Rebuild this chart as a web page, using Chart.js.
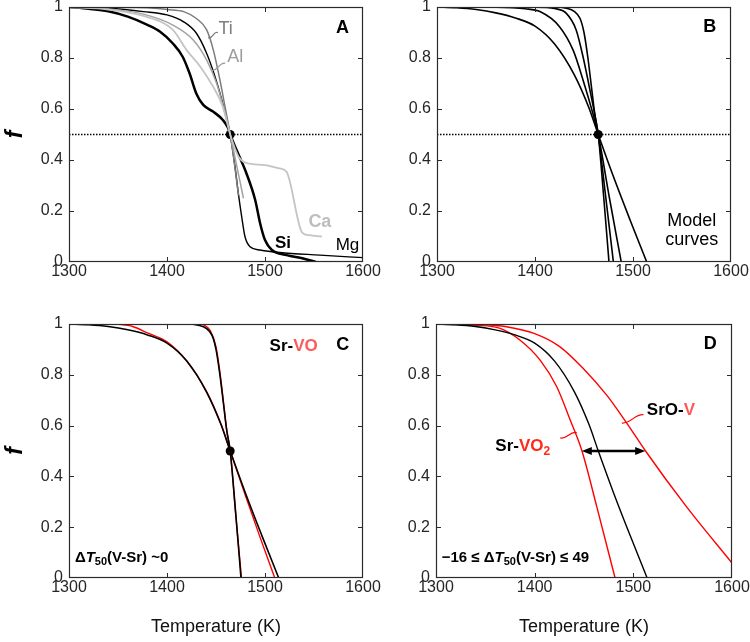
<!DOCTYPE html>
<html>
<head>
<meta charset="utf-8">
<script src="https://cdn.jsdelivr.net/npm/chart.js@4.4.1/dist/chart.umd.min.js"></script>
<style>
  html, body { margin: 0; padding: 0; background: #fff; overflow: hidden; }
  #wrap { position: relative; width: 750px; height: 642px; overflow: hidden; }
  canvas { position: absolute; }
</style>
</head>
<body>
<div id="wrap">
  <canvas id="panelA" width="400" height="310" style="left:0;top:-10px"></canvas>
  <canvas id="panelB" width="385" height="310" style="left:375px;top:-10px"></canvas>
  <canvas id="panelC" width="400" height="342" style="left:0;top:300px"></canvas>
  <canvas id="panelD" width="385" height="342" style="left:375px;top:300px"></canvas>
</div>
<script>
const FONT = '"Liberation Sans", Arial, Helvetica, sans-serif';

// axes
const tMin = 1300, tMax = 1600;
const halfLevel = 0.5;
const T50 = 1464.5;

// panel A: measured release curves
const siT = [1300, 1320, 1340, 1360, 1380, 1393, 1406, 1416, 1423, 1430, 1437, 1447, 1457, 1462.5, 1464.5, 1471, 1481, 1490, 1495, 1500, 1507, 1522, 1539, 1552];
const siF = [1.0, 0.993, 0.983, 0.962, 0.93, 0.903, 0.857, 0.805, 0.74, 0.66, 0.616, 0.59, 0.557, 0.524, 0.5, 0.439, 0.348, 0.243, 0.152, 0.086, 0.047, 0.027, 0.014, 0];
const mgT = [1300, 1340, 1376, 1400, 1417, 1430, 1440.5, 1449, 1456, 1461, 1464.5, 1469.4, 1472.8, 1476.2, 1479.6, 1484.7, 1495, 1515, 1556, 1600];
const mgF = [1.0, 0.995, 0.982, 0.969, 0.942, 0.897, 0.818, 0.727, 0.635, 0.557, 0.5, 0.374, 0.269, 0.178, 0.099, 0.06, 0.047, 0.037, 0.027, 0.017];
const tiT = [1300, 1380, 1400, 1417, 1430, 1440.5, 1447.3, 1454, 1459.2, 1464.5, 1469, 1473];
const tiF = [1.0, 0.997, 0.99, 0.982, 0.955, 0.91, 0.831, 0.714, 0.609, 0.5, 0.38, 0.26];
const alT = [1300, 1340, 1376, 1406, 1427, 1440.5, 1450.7, 1457.4, 1464.5, 1471, 1478];
const alF = [1.0, 0.993, 0.972, 0.929, 0.87, 0.792, 0.70, 0.609, 0.5, 0.38, 0.25];
const caT = [1300, 1340, 1376, 1406, 1420, 1434, 1447, 1457, 1464.5, 1473, 1480, 1500, 1515, 1522, 1538, 1545, 1558];
const caF = [1.0, 0.99, 0.965, 0.91, 0.831, 0.766, 0.688, 0.609, 0.5, 0.413, 0.39, 0.38, 0.367, 0.354, 0.115, 0.105, 0.10];

// panel B: model curves
const broadT = [1300, 1320, 1340, 1360, 1380, 1400, 1420, 1440, 1455, 1464.5, 1480, 1497, 1514];
const broadF = [1.0, 0.997, 0.99, 0.977, 0.957, 0.925, 0.855, 0.735, 0.605, 0.5, 0.335, 0.165, 0];
const midT = [1300, 1360, 1390, 1405, 1425, 1439, 1449, 1459, 1464.5, 1476, 1488];
const midF = [1.0, 0.999, 0.993, 0.982, 0.923, 0.83, 0.714, 0.583, 0.5, 0.25, 0];
const sharpT = [1300, 1400, 1420, 1432, 1442, 1449, 1456, 1464.5, 1472, 1480];
const sharpF = [1.0, 0.999, 0.994, 0.975, 0.91, 0.805, 0.675, 0.5, 0.26, 0];
const steepT = [1300, 1420, 1432, 1440, 1446, 1450, 1454, 1457.5, 1461, 1464.5, 1470, 1475.5];
const steepF = [1.0, 1.0, 0.995, 0.983, 0.955, 0.9, 0.8, 0.69, 0.58, 0.5, 0.26, 0];

// panel C: Sr-VO fits
const voBroadT = [1348, 1365, 1380, 1400, 1420, 1440, 1455, 1464.5, 1480, 1495, 1510];
const voBroadF = [1.0, 0.99, 0.965, 0.93, 0.855, 0.737, 0.607, 0.5, 0.325, 0.16, 0];
const voSteepT = [1436, 1444, 1450, 1454, 1458, 1461, 1464.5, 1470, 1476];
const voSteepF = [1.0, 0.975, 0.91, 0.81, 0.68, 0.58, 0.5, 0.255, 0];

// panel D: Sr-VO2 and SrO-V
const vo2T = [1300, 1340, 1365, 1385, 1405.5, 1422.4, 1436, 1447.8, 1463, 1481.5];
const vo2F = [1.0, 0.995, 0.983, 0.937, 0.858, 0.753, 0.622, 0.502, 0.28, 0];
const sroT = [1344, 1370, 1400, 1425, 1449, 1473, 1493, 1512, 1554, 1600];
const sroF = [1.0, 0.99, 0.962, 0.912, 0.826, 0.72, 0.612, 0.502, 0.28, 0.059];
const arrowT = [1447.8, 1512];

const RED = '#ff0000';
const pts = (T, F) => T.map((t, i) => ({ x: t, y: F[i] }));

function curve(T, F, color, width) {
  return {
    data: pts(T, F), borderColor: color, borderWidth: width,
    pointRadius: 0, fill: false, cubicInterpolationMode: 'monotone'
  };
}
function halfLine() {
  return {
    data: pts([tMin, tMax], [halfLevel, halfLevel]), borderColor: '#000',
    borderWidth: 1.5, borderDash: [1.5, 1.5], pointRadius: 0, fill: false
  };
}
function midDot() {
  return {
    data: [{ x: T50, y: halfLevel }], showLine: false, pointRadius: 4.5,
    pointBackgroundColor: '#000', pointBorderWidth: 0
  };
}

function drawRich(ctx, n, x, y) {
  const size = n.size;
  const fontOf = p => {
    const b = p.b !== undefined ? p.b : n.b;
    return (p.i ? 'italic ' : '') + (b ? 'bold ' : '') + (p.sub ? Math.round(size * 0.72) : size) + 'px ' + FONT;
  };
  let total = 0;
  n.parts.forEach(p => { ctx.font = fontOf(p); total += ctx.measureText(p.t).width; });
  let cx = n.align === 'left' ? x : n.align === 'right' ? x - total : x - total / 2;
  ctx.textBaseline = 'middle';
  ctx.textAlign = 'left';
  n.parts.forEach(p => {
    ctx.font = fontOf(p);
    ctx.fillStyle = p.c || n.c || '#000';
    ctx.fillText(p.t, cx, p.sub ? y + size * 0.28 : y);
    cx += ctx.measureText(p.t).width;
  });
}

function drawSquiggle(ctx, x1, y1, x2, y2, color) {
  const dx = x2 - x1, dy = y2 - y1, len = Math.hypot(dx, dy);
  const nx = -dy / len * 4, ny = dx / len * 4;
  ctx.beginPath();
  ctx.moveTo(x1, y1);
  ctx.bezierCurveTo(x1 + dx / 3 + nx, y1 + dy / 3 + ny, x1 + 2 * dx / 3 - nx, y1 + 2 * dy / 3 - ny, x2, y2);
  ctx.strokeStyle = color;
  ctx.lineWidth = 1.2;
  ctx.stroke();
}

function drawArrow(ctx, x1, x2, y) {
  const head = 10, half = 4;
  ctx.strokeStyle = '#000';
  ctx.fillStyle = '#000';
  ctx.lineWidth = 2.5;
  ctx.beginPath();
  ctx.moveTo(x1 + head - 1, y);
  ctx.lineTo(x2 - head + 1, y);
  ctx.stroke();
  ctx.beginPath();
  ctx.moveTo(x1, y); ctx.lineTo(x1 + head, y - half); ctx.lineTo(x1 + head, y + half); ctx.closePath();
  ctx.fill();
  ctx.beginPath();
  ctx.moveTo(x2, y); ctx.lineTo(x2 - head, y - half); ctx.lineTo(x2 - head, y + half); ctx.closePath();
  ctx.fill();
}

// box with inward ticks on all four sides, matlab style
const framePlugin = {
  id: 'frame',
  afterDraw(chart) {
    const { ctx, chartArea: a, scales: { x, y } } = chart;
    const len = 5;
    ctx.save();
    ctx.strokeStyle = '#2b2b2b';
    ctx.lineWidth = 1.2;
    ctx.strokeRect(Math.round(a.left) + 0.5, Math.round(a.top) + 0.5,
      Math.round(a.right - a.left) - 1, Math.round(a.bottom - a.top) - 1);
    ctx.lineWidth = 1;
    ctx.beginPath();
    x.ticks.forEach(t => {
      if (t.value === x.min || t.value === x.max) return;
      const px = Math.round(x.getPixelForValue(t.value)) + 0.5;
      ctx.moveTo(px, a.bottom); ctx.lineTo(px, a.bottom - len);
      ctx.moveTo(px, a.top); ctx.lineTo(px, a.top + len);
    });
    y.ticks.forEach(t => {
      if (t.value === y.min || t.value === y.max) return;
      const py = Math.round(y.getPixelForValue(t.value)) + 0.5;
      ctx.moveTo(a.left, py); ctx.lineTo(a.left + len, py);
      ctx.moveTo(a.right, py); ctx.lineTo(a.right - len, py);
    });
    ctx.stroke();
    ctx.restore();
  }
};

function notesPlugin(notes) {
  return {
    id: 'notes',
    afterDatasetsDraw(chart) {
      const { ctx, scales: { x, y } } = chart;
      ctx.save();
      notes.forEach(n => {
        if (n.kind === 'squiggle') {
          drawSquiggle(ctx, x.getPixelForValue(n.from[0]), y.getPixelForValue(n.from[1]),
            x.getPixelForValue(n.to[0]), y.getPixelForValue(n.to[1]), n.c);
        } else if (n.kind === 'arrow') {
          drawArrow(ctx, x.getPixelForValue(n.T[0]), x.getPixelForValue(n.T[1]), y.getPixelForValue(n.f));
        } else {
          drawRich(ctx, n, x.getPixelForValue(n.T), y.getPixelForValue(n.f));
        }
      });
      ctx.restore();
    }
  };
}

const fmtY = v => {
  const r = Math.round(v * 10) / 10;
  return r === 0 ? '0' : r === 1 ? '1' : r.toFixed(1);
};

function buildPanel(id, g, datasets, notes) {
  new Chart(document.getElementById(id), {
    type: 'line',
    data: { datasets: datasets },
    options: {
      responsive: false,
      animation: false,
      events: [],
      layout: { padding: { top: g.top, right: g.right, left: 0, bottom: 0 } },
      plugins: { legend: { display: false }, tooltip: { enabled: false } },
      scales: {
        x: {
          type: 'linear', min: tMin, max: tMax,
          grid: { display: false, drawTicks: false },
          border: { display: false },
          ticks: {
            stepSize: 100, padding: 0, maxRotation: 0, color: '#262626',
            font: { size: 16, family: FONT }, callback: v => String(v)
          },
          afterFit: s => { s.height = g.xh; },
          title: {
            display: !!g.xTitle, text: 'Temperature (K)', color: '#111',
            font: { size: 18, family: FONT }, padding: { top: 0, bottom: 4 }
          }
        },
        y: {
          min: 0, max: 1,
          grid: { display: false, drawTicks: false },
          border: { display: false },
          ticks: {
            stepSize: 0.2, padding: 6, color: '#262626',
            font: { size: 16, family: FONT }, callback: fmtY
          },
          afterFit: s => { s.width = g.yw; },
          title: {
            display: !!g.yTitle, text: 'f', color: '#000',
            font: { size: 23, family: FONT, weight: 'bold', style: 'italic' }, padding: { top: 2, bottom: 0 }
          }
        }
      }
    },
    plugins: [framePlugin, notesPlugin(notes)]
  });
}

const bold18 = { size: 18, b: true, align: 'center' };

buildPanel('panelA', { top: 17, right: 37, yw: 69, xh: 38, yTitle: true }, [
  curve(caT, caF, '#c4c4c4', 1.8),
  curve(alT, alF, '#a2a2a2', 1.5),
  curve(tiT, tiF, '#7c7c7c', 1.5),
  curve(mgT, mgF, '#000', 1.4),
  curve(siT, siF, '#000', 2.5),
  halfLine(),
  midDot()
], [
  { kind: 'squiggle', from: [1442, 0.88], to: [1452, 0.9], c: '#7c7c7c' },
  { T: 1452.5, f: 0.914, size: 18, align: 'left', c: '#7f7f7f', parts: [{ t: 'Ti' }] },
  { kind: 'squiggle', from: [1445.6, 0.752], to: [1459.5, 0.78], c: '#9a9a9a' },
  { T: 1461.5, f: 0.804, size: 18, align: 'left', c: '#9c9c9c', parts: [{ t: 'Al' }] },
  Object.assign({ T: 1556, f: 0.158, c: '#bdbdbd', parts: [{ t: 'Ca' }] }, bold18),
  { T: 1518.4, f: 0.075, size: 17, b: true, align: 'center', parts: [{ t: 'Si' }] },
  { T: 1584.2, f: 0.065, size: 17, align: 'center', parts: [{ t: 'Mg' }] },
  Object.assign({ T: 1579, f: 0.916, parts: [{ t: 'A' }] }, bold18)
]);

buildPanel('panelB', { top: 17, right: 29, yw: 62, xh: 38 }, [
  curve(broadT, broadF, '#000', 1.6),
  curve(midT, midF, '#000', 1.6),
  curve(sharpT, sharpF, '#000', 1.6),
  curve(steepT, steepF, '#000', 1.6),
  halfLine(),
  midDot()
], [
  Object.assign({ T: 1578.3, f: 0.923, parts: [{ t: 'B' }] }, bold18),
  { T: 1560, f: 0.161, size: 18, align: 'center', parts: [{ t: 'Model' }] },
  { T: 1560, f: 0.086, size: 18, align: 'center', parts: [{ t: 'curves' }] }
]);

buildPanel('panelC', { top: 24, right: 37, yw: 69, xh: 64, xTitle: true, yTitle: true }, [
  curve(broadT, broadF, '#000', 1.6),
  curve(steepT, steepF, '#000', 1.6),
  curve(voBroadT, voBroadF, RED, 1.4),
  curve(voSteepT, voSteepF, RED, 1.4),
  midDot()
], [
  { T: 1553.8, f: 0.911, size: 17, b: true, align: 'right', parts: [{ t: 'Sr-' }, { t: 'VO', c: '#ff5a5a' }] },
  Object.assign({ T: 1579.3, f: 0.917, parts: [{ t: 'C' }] }, bold18),
  { T: 1306, f: 0.08, size: 15, b: true, align: 'left', parts: [{ t: 'Δ' }, { t: 'T', i: true }, { t: '50', sub: true }, { t: '(V-Sr) ~0' }] }
]);

buildPanel('panelD', { top: 24, right: 28, yw: 61, xh: 64, xTitle: true }, [
  curve(broadT, broadF, '#000', 1.4),
  curve(vo2T, vo2F, RED, 1.4),
  curve(sroT, sroF, RED, 1.4)
], [
  { kind: 'arrow', T: arrowT, f: halfLevel },
  Object.assign({ T: 1578, f: 0.923, parts: [{ t: 'D' }] }, bold18),
  { kind: 'squiggle', from: [1488.4, 0.61], to: [1510.3, 0.643], c: RED },
  { T: 1513.7, f: 0.662, size: 17, b: true, align: 'left', parts: [{ t: 'SrO-' }, { t: 'V', c: '#ff5a5a' }] },
  { kind: 'squiggle', from: [1425.8, 0.552], to: [1442.7, 0.572], c: RED },
  { T: 1415.7, f: 0.518, size: 17, b: true, align: 'right', parts: [{ t: 'Sr-' }, { t: 'VO', c: '#ff2a1a' }, { t: '2', sub: true, c: '#ff2a1a' }] },
  { T: 1305.8, f: 0.08, size: 15, b: true, align: 'left', parts: [{ t: '\u221216 \u2264 Δ' }, { t: 'T', i: true }, { t: '50', sub: true }, { t: '(V-Sr) \u2264 49' }] }
]);
</script>
</body>
</html>
